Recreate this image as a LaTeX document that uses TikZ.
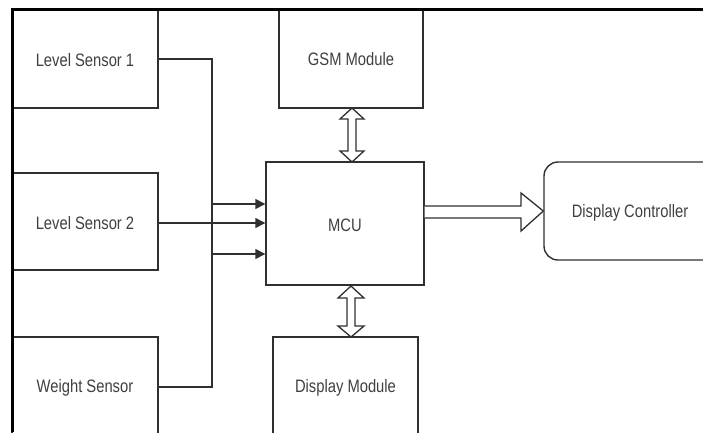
\documentclass[tikz,border=0pt]{standalone}
\usepackage{fontspec}
\setmainfont{Liberation Sans}[FakeStretch=0.82]
\usetikzlibrary{arrows.meta}
\definecolor{txt}{HTML}{404040}
\definecolor{edge}{HTML}{303030}
\tikzset{
  block/.style={draw=edge, line width=1.4pt, fill=white, rectangle,
    inner sep=0pt},
  label/.style={text=txt, font=\fontsize{18}{20}\selectfont},
  wire/.style={draw=edge, line width=1.4pt},
  feed/.style={wire, -{Triangle[length=10pt,width=10pt]}},
  hollow/.style={draw=edge, line width=1.3pt, fill=white, line join=miter},
  frame/.style={draw=black, line width=3pt}
}
\begin{document}
\begin{tikzpicture}[x=1pt,y=-1pt]
\useasboundingbox (0,0) rectangle (703,432);
\fill[white] (0,0) rectangle (703,432);
\begin{scope}
\clip (0,0) rectangle (703,432);

% sensor blocks
\node[block, minimum width=146pt, minimum height=98pt] (ls1) at (85,59) {};
\node[label] at (85,60) {Level Sensor 1};
\node[block, minimum width=146pt, minimum height=97pt] (ls2) at (85,221.5) {};
\node[label] at (85,223) {Level Sensor 2};
\node[block, minimum width=146pt, minimum height=100pt] (ws) at (85,387) {};
\node[label] at (85,388) {Weight Sensor};

% processing and peripheral blocks
\node[block, minimum width=144pt, minimum height=98pt] (gsm) at (351,59) {};
\node[label] at (351,59) {GSM Module};
\node[block, minimum width=158pt, minimum height=123pt] (mcu) at (345,223.5) {};
\node[label] at (345,225) {MCU};
\node[block, minimum width=145pt, minimum height=100pt] (dm) at (345.5,387) {};
\node[label] at (345.5,388) {Display Module};
\node[block, rounded corners=14pt, minimum width=180pt, minimum height=98pt] (dc) at (634,211) {};
\node[label] at (630,213) {Display Controller};

% sensor bus
\coordinate (bus1) at (212,59);
\coordinate (bus3) at (212,387);
\draw[wire] (ls1.east |- bus1) -- (bus1) -- (bus3) -- (ws.east |- bus3);
\draw[wire] (ls2.east |- 0,223) -- (212,223);
\coordinate (in1) at (212,204);
\coordinate (in2) at (212,223);
\coordinate (in3) at (212,254);
\draw[feed] (in1) -- (mcu.west |- in1);
\draw[feed] (in2) -- (mcu.west |- in2);
\draw[feed] (in3) -- (mcu.west |- in3);

% bidirectional links
\draw[hollow] (352,108) -- (364,119) -- (356,119) -- (356,151) -- (364,151)
  -- (352,162) -- (340,151) -- (348,151) -- (348,119) -- (340,119) -- cycle;
\draw[hollow] (351,286) -- (364,298) -- (355,298) -- (355,326) -- (364,326)
  -- (351,337) -- (338,326) -- (347,326) -- (347,298) -- (338,298) -- cycle;

% output to display controller
\draw[hollow] (mcu.east |- 0,206) -- (521,206) -- (521,193) -- (dc.west)
  -- (521,231) -- (521,218) -- (mcu.east |- 0,218);
\end{scope}

% outer frame
\draw[frame] (12,432) -- (12,9) -- (703,9);
\end{tikzpicture}
\end{document}
